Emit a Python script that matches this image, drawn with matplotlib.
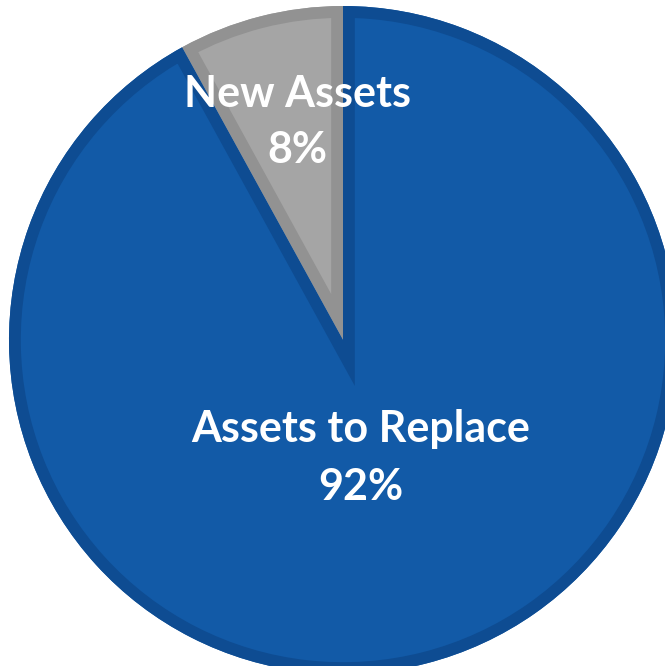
import matplotlib.pyplot as plt
from matplotlib.patches import Wedge

labels = ['New Assets', 'Assets to Replace']
shares = [8, 92]
fills = ['#a5a5a5', '#125aa7']
edges = ['#929292', '#0e4c92']

fig = plt.figure(figsize=(6.65, 6.66), dpi=100)
ax = fig.add_axes([0, 0, 1, 1])

wedges, _ = ax.pie(shares, colors=fills, startangle=90, counterclock=True,
                   center=(343, 666 - 340), radius=334, frame=True)
ax.set_xlim(0, 665)
ax.set_ylim(0, 666)
ax.set_aspect('equal')
ax.axis('off')

# inner border: stroke a copy of each wedge, clipped to the filled wedge
for w, ec in zip(wedges, edges):
    w.set_linewidth(0)
    b = Wedge(w.center, w.r, w.theta1, w.theta2, facecolor='none',
              edgecolor=ec, linewidth=17, joinstyle='miter')
    ax.add_patch(b)
    b.set_clip_path(w)

font = dict(color='white', fontweight='bold', family='Lato', fontsize=31,
            ha='center', va='baseline')
ax.text(297, 666 - 107, labels[0], **font)
ax.text(297, 666 - 163, f'{shares[0]}%', **font)
ax.text(361, 666 - 442, labels[1], **font)
ax.text(361, 666 - 500, f'{shares[1]}%', **font)

fig.savefig('out.png', dpi=100)
